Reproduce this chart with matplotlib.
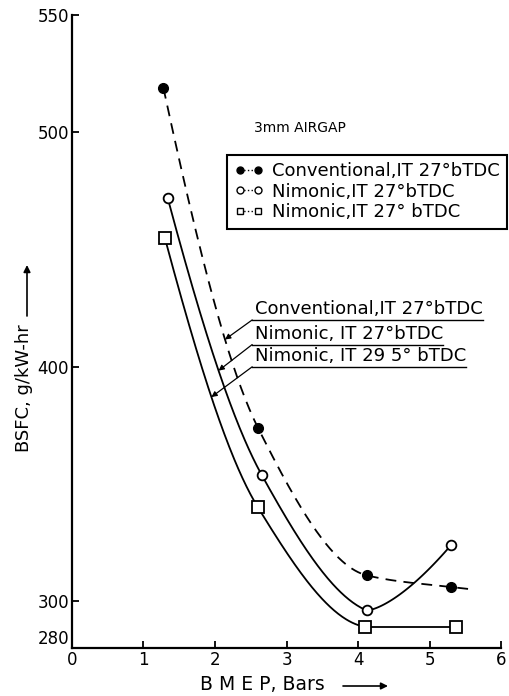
import numpy as np
import matplotlib
matplotlib.use('Agg')
import matplotlib.pyplot as plt
from matplotlib.lines import Line2D

# data (BMEP in bar, BSFC in g/kW-hr)
bmep_conv = [1.28, 2.60, 4.12, 5.30]
bsfc_conv = [519, 374, 311, 306]
conv_tail_x = 5.6   # dashed curve runs on past the last point
conv_tail_y = 305

bmep_nim27 = [1.34, 2.65, 4.12, 5.30]
bsfc_nim27 = [472, 354, 296, 324]

bmep_nim295 = [1.30, 2.60, 4.10, 5.37]
bsfc_nim295 = [455, 340, 289, 289]

legend_labels = ['Conventional,IT 27°bTDC', 'Nimonic,IT 27°bTDC', 'Nimonic,IT 27° bTDC']
curve_labels = ['Conventional,IT 27°bTDC', 'Nimonic, IT 27°bTDC', 'Nimonic, IT 29 5° bTDC']
x_ticks = [0, 1, 2, 3, 4, 5, 6]
y_ticks = [280, 300, 400, 500, 550]


def pchip(xs, ys, xn):
    # monotone cubic through the points (smooth hand-drawn look)
    xs = np.asarray(xs, float)
    ys = np.asarray(ys, float)
    h = np.diff(xs)
    d = np.diff(ys) / h
    n = len(xs)
    m = np.zeros(n)
    if n == 2:
        m[:] = d[0]
    else:
        for k in range(1, n - 1):
            if d[k - 1] * d[k] > 0:
                w1 = 2 * h[k] + h[k - 1]
                w2 = h[k] + 2 * h[k - 1]
                m[k] = (w1 + w2) / (w1 / d[k - 1] + w2 / d[k])
        m[0] = ((2 * h[0] + h[1]) * d[0] - h[0] * d[1]) / (h[0] + h[1])
        if np.sign(m[0]) != np.sign(d[0]):
            m[0] = 0
        m[-1] = ((2 * h[-1] + h[-2]) * d[-1] - h[-1] * d[-2]) / (h[-1] + h[-2])
        if np.sign(m[-1]) != np.sign(d[-1]):
            m[-1] = 0
    xn = np.asarray(xn, float)
    i = np.clip(np.searchsorted(xs, xn) - 1, 0, n - 2)
    t = (xn - xs[i]) / h[i]
    h00 = 2 * t**3 - 3 * t**2 + 1
    h10 = t**3 - 2 * t**2 + t
    h01 = -2 * t**3 + 3 * t**2
    h11 = t**3 - t**2
    return h00 * ys[i] + h10 * h[i] * m[i] + h01 * ys[i + 1] + h11 * h[i] * m[i + 1]


fig = plt.figure(figsize=(5.09, 6.96), dpi=100)
ax = fig.add_axes([0.141, 0.069, 0.844, 0.909])

# Conventional - dashed, through all points and on to the tail
cx = bmep_conv + [conv_tail_x]
cy = bsfc_conv + [conv_tail_y]
xs = np.linspace(cx[0], cx[-1], 300)
ax.plot(xs, pchip(cx, cy, xs), color='black', lw=1.3, ls=(0, (6, 4)))
ax.plot(bmep_conv, bsfc_conv, 'o', color='black', ms=7)

# Nimonic 27 - solid, sharp minimum at the third point
xs1 = np.linspace(bmep_nim27[0], bmep_nim27[2], 200)
ax.plot(xs1, pchip(bmep_nim27[:3], bsfc_nim27[:3], xs1), color='black', lw=1.3)
t = np.linspace(0, 1, 60)
ax.plot(bmep_nim27[2] + t * (bmep_nim27[3] - bmep_nim27[2]),
        bsfc_nim27[2] + (bsfc_nim27[3] - bsfc_nim27[2]) * t**1.5, color='black', lw=1.3)
ax.plot(bmep_nim27, bsfc_nim27, 'o', color='black', mfc='white', ms=7, mew=1.3)

# Nimonic 29.5 - solid, flat after the minimum
xs2 = np.linspace(bmep_nim295[0], bmep_nim295[2], 200)
ax.plot(xs2, pchip(bmep_nim295[:3], bsfc_nim295[:3], xs2), color='black', lw=1.3)
ax.plot(bmep_nim295[2:], bsfc_nim295[2:], color='black', lw=1.3)
ax.plot(bmep_nim295, bsfc_nim295, 's', color='black', mfc='white', ms=8, mew=1.3)

# axes styling
ax.set_xlim(0, 6)
ax.set_ylim(280, 550)
ax.set_xticks(x_ticks)
ax.set_yticks(y_ticks)
ax.spines['top'].set_visible(False)
ax.spines['right'].set_visible(False)
ax.spines['left'].set_linewidth(1.6)
ax.spines['bottom'].set_linewidth(1.6)
ax.tick_params(direction='in', length=5, width=1.3, labelsize=12, pad=2)
ax.get_yticklabels()[0].set_va('bottom')   # 280 sits just above the corner

# axis titles with their long arrows
fig.text(200 / 509, 1 - 685 / 696, 'B M E P, Bars', ha='left', va='center', fontsize=13.5)
fig.text(24 / 509, 1 - 388 / 696, 'BSFC, g/kW-hr', ha='center', va='center',
         rotation=90, fontsize=13)
ax.annotate('', xy=(388 / 509, 1 - 686 / 696), xytext=(343 / 509, 1 - 686 / 696),
            xycoords='figure fraction', textcoords='figure fraction',
            arrowprops=dict(arrowstyle='-|>', color='black', lw=1.2, mutation_scale=10,
                            shrinkA=0, shrinkB=0), annotation_clip=False)
ax.annotate('', xy=(27 / 509, 1 - 265 / 696), xytext=(27 / 509, 1 - 316 / 696),
            xycoords='figure fraction', textcoords='figure fraction',
            arrowprops=dict(arrowstyle='-|>', color='black', lw=1.2, mutation_scale=10,
                            shrinkA=0, shrinkB=0), annotation_clip=False)

ax.text(2.55, 502, '3mm AIRGAP', fontsize=10, va='center')

# legend box
handles = [
    Line2D([0], [0], color='black', ls=':', marker='o', ms=5, lw=1),
    Line2D([0], [0], color='black', ls=':', marker='o', mfc='white', ms=5, lw=1),
    Line2D([0], [0], color='black', ls=':', marker='s', mfc='white', ms=5, lw=1),
]
leg = ax.legend(handles, legend_labels, loc='upper right', bbox_to_anchor=(6.08, 490.5),
                bbox_transform=ax.transData, fancybox=False, edgecolor='black',
                framealpha=1, borderpad=0.4, handlelength=1.6, handletextpad=0.5,
                labelspacing=0.15, fontsize=13, borderaxespad=0, numpoints=2)
leg.get_frame().set_linewidth(1.5)

# underlined curve labels with leader arrows
label_y = [420, 409.5, 400]
target_x = [2.14, 2.05, 1.95]
curves = [(cx, cy), (bmep_nim27[:3], bsfc_nim27[:3]), (bmep_nim295[:3], bsfc_nim295[:3])]
start_x = 2.52
texts = []
for lab, ly in zip(curve_labels, label_y):
    texts.append(ax.text(start_x + 0.04, ly + 0.8, lab, fontsize=13, va='bottom'))
fig.canvas.draw()
inv = ax.transData.inverted()
for txt, ly, tx, (px, py) in zip(texts, label_y, target_x, curves):
    bb = txt.get_window_extent()
    x_end = inv.transform((bb.x1, bb.y0))[0]
    ax.plot([start_x, x_end], [ly, ly], color='black', lw=1.0, clip_on=False)
    ty = float(pchip(px, py, [tx])[0])
    ax.annotate('', xy=(tx, ty), xytext=(start_x, ly),
                arrowprops=dict(arrowstyle='-|>', color='black', lw=0.9,
                                mutation_scale=8, shrinkA=0, shrinkB=0))

fig.savefig('out.png', dpi=100)
